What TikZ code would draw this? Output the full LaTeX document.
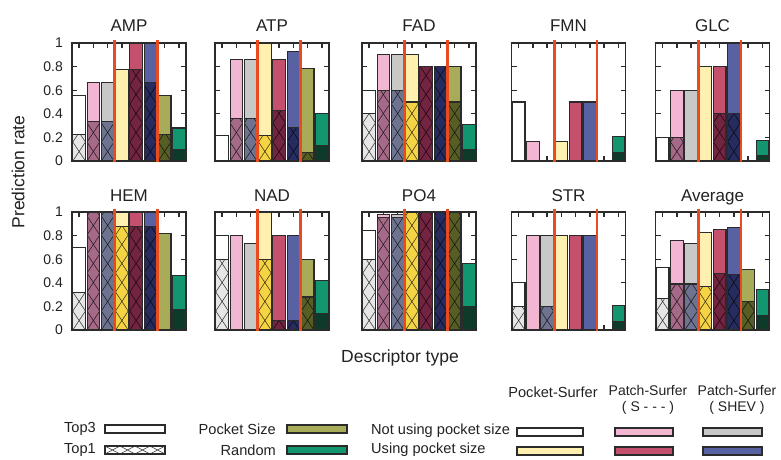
\documentclass[tikz,border=0pt]{standalone}
\usepackage{fontspec}
\setmainfont{Liberation Sans}
\definecolor{frmc}{HTML}{2B2B2B}
\definecolor{txtc}{HTML}{222222}
\definecolor{redc}{HTML}{E84C1E}
\definecolor{t3c0}{HTML}{FFFFFF}\definecolor{t1c0}{HTML}{E6E6E6}
\definecolor{t3c1}{HTML}{F2B6D2}\definecolor{t1c1}{HTML}{A46A88}
\definecolor{t3c2}{HTML}{C8C8C8}\definecolor{t1c2}{HTML}{6E7490}
\definecolor{t3c3}{HTML}{FFF0B0}\definecolor{t1c3}{HTML}{F4D444}
\definecolor{t3c4}{HTML}{C4506E}\definecolor{t1c4}{HTML}{722440}
\definecolor{t3c5}{HTML}{5862A2}\definecolor{t1c5}{HTML}{262C5E}
\definecolor{t3c6}{HTML}{A8AC58}\definecolor{t1c6}{HTML}{565E26}
\definecolor{t3c7}{HTML}{129670}\definecolor{t1c7}{HTML}{0E3A2A}
\tikzset{
  frm/.style={draw=frmc, line width=1.4pt},
  barol/.style={draw=frmc, line width=1.1pt},
  hatchln/.style={draw=black, line width=0.6pt, opacity=0.75},
  redln/.style={draw=redc, line width=2.8pt},
  tickln/.style={draw=frmc, line width=1.3pt},
  ttl/.style={font=\fontsize{17}{20}\selectfont, text=txtc, anchor=base, inner sep=0pt},
  lbl/.style={font=\fontsize{14}{16}\selectfont, text=txtc, inner sep=0pt},
  lgd/.style={font=\fontsize{14.6}{17}\selectfont, text=txtc, inner sep=0pt},
  hdr/.style={font=\fontsize{14}{15.5}\selectfont, text=txtc, inner sep=0pt, align=center, anchor=north},
  axl/.style={font=\fontsize{17.5}{20}\selectfont, text=txtc, inner sep=0pt},
}
\newcommand\hatchrect[4]{%
  \begin{scope}
    \clip (#1,#2) rectangle (#3,#4);
    \foreach \m in {0,...,7} {
      \draw[hatchln] (#1,-\m*19) -- (#3,-\m*19-19);
      \draw[hatchln] (#1,-\m*19-19) -- (#3,-\m*19);
    }
  \end{scope}}
\newcommand\panel[4]{%
  \begin{scope}[shift={(#1,#2)}]
    \foreach \k in {1,...,4}
      \draw[tickln] (0,-\k*23.6) -- ++(5,0) (114,-\k*23.6) -- ++(-5,0);
    \foreach \i in {0,...,7}
      \draw[tickln] (\i*14.25+7.125,-118) -- ++(0,5) (\i*14.25+7.125,0) -- ++(0,-5);
    \foreach \va/\vb [count=\i from 0] in {#4} {
      \pgfmathsetmacro\xa{\i*14.25+0.8}
      \pgfmathsetmacro\xb{(\i+1)*14.25-0.8}
      \fill[fill=t3c\i] (\xa,0) rectangle (\xb,-\va*118);
      \fill[fill=t1c\i] (\xa,0) rectangle (\xb,-\vb*118);
      \ifnum\i<7 \hatchrect{\xa}{0}{\xb}{-\vb*118}\fi
      \draw[barol] (\xa,0) rectangle (\xb,-\vb*118);
      \draw[barol] (\xa,0) rectangle (\xb,-\va*118);
    }
    \draw[frm] (0,0) rectangle (114,-118);
    \draw[redln] (42.75,1) -- (42.75,-121);
    \draw[redln] (85.5,1) -- (85.5,-121);
    \node[ttl, name=title#3] at (57,-129) {#3};
  \end{scope}}
\begin{document}
\begin{tikzpicture}[x=1pt,y=-1pt]
\useasboundingbox (0,0) rectangle (781,460);
\fill[white] (0,0) rectangle (781,460);
% row 1
\panel{72}{161}{AMP}{0.556/0.222,0.667/0.333,0.667/0.333,0.778/0,1/0.778,1/0.667,0.556/0.222,0.28/0.10}
\panel{215}{161}{ATP}{0.214/0,0.857/0.357,0.857/0.357,1/0.214,0.857/0.429,0.929/0.286,0.786/0.071,0.40/0.13}
\panel{362}{161}{FAD}{0.6/0.4,0.9/0.6,0.9/0.6,0.9/0.5,0.8/0.8,0.8/0.8,0.8/0.5,0.31/0.10}
\panel{511.5}{161}{FMN}{0.5/0,0.167/0,0/0,0.167/0,0.5/0,0.5/0,0/0,0.21/0.07}
\panel{655.5}{161}{GLC}{0.2/0,0.6/0.2,0.6/0,0.8/0,0.8/0.4,1/0.4,0/0,0.17/0.05}
% row 2
\panel{72}{330}{HEM}{0.7/0.32,1/1,1/1,1/0.88,1/0.88,1/0.88,0.82/0,0.46/0.17}
\panel{215}{330}{NAD}{0.8/0.6,0.8/0,0.73/0,1/0.6,0.8/0.08,0.8/0.08,0.6/0.28,0.42/0.14}
\panel{362}{330}{PO4}{0.84/0.6,0.98/0.95,0.98/0.95,1/1,1/1,1/1,1/1,0.56/0.2}
\panel{511.5}{330}{STR}{0.4/0.2,0.8/0,0.8/0.2,0.8/0,0.8/0,0.8/0,0/0,0.21/0.07}
\panel{655.5}{330}{Average}{0.53/0.27,0.76/0.39,0.73/0.39,0.83/0.37,0.85/0.48,0.87/0.47,0.51/0.24,0.34/0.12}
% y tick labels
\foreach \lab [count=\c from 0] in {0,0.2,0.4,0.6,0.8,1} {
  \node[lbl, anchor=east, name=ya\c] at (63,161-\c*23.6) {\lab};
  \node[lbl, anchor=east, name=yb\c] at (63,330-\c*23.6) {\lab};
}
% axis labels
\node[axl, rotate=90, name=ylab] at (18,172) {Prediction rate};
\node[axl, name=xlab] at (400,358) {Descriptor type};
% legend left
\node[lgd, anchor=east, name=lt3] at (96,429) {Top3};
\node[lgd, anchor=east, name=lt1] at (96,450) {Top1};
\draw[barol, fill=white] (105,425) rectangle (165,433);
\fill[white] (105,446) rectangle (165,454);
\begin{scope}
  \clip (105,446) rectangle (165,454);
  \foreach \m in {0,...,3} {
    \draw[hatchln] (105+\m*15,446) -- (120+\m*15,454);
    \draw[hatchln] (105+\m*15,454) -- (120+\m*15,446);
  }
\end{scope}
\draw[barol] (105,446) rectangle (165,454);
\node[lgd, anchor=east, name=lps] at (276,429) {Pocket Size};
\node[lgd, anchor=east, name=lrd] at (276,450) {Random};
\draw[barol, fill=t3c6] (287,425) rectangle (347,433);
\draw[barol, fill=t3c7] (287,446) rectangle (347,454);
% legend table
\node[lgd, anchor=base, name=h1] at (553,397) {Pocket-Surfer};
\node[hdr, name=h2] at (648,385.5) {Patch-Surfer\\( S - - - )};
\node[hdr, name=h3] at (737,385.5) {Patch-Surfer\\( SHEV )};
\node[lgd, anchor=west, name=rn] at (371,431) {Not using pocket size};
\node[lgd, anchor=west, name=ru] at (371,450) {Using pocket size};
\draw[barol, fill=t3c0] (517,428) rectangle (583,436);
\draw[barol, fill=t3c1] (615,428) rectangle (673,436);
\draw[barol, fill=t3c2] (703,428) rectangle (762,436);
\draw[barol, fill=t3c3] (517,447) rectangle (583,455);
\draw[barol, fill=t3c4] (615,447) rectangle (673,455);
\draw[barol, fill=t3c5] (703,447) rectangle (762,455);
\end{tikzpicture}
\end{document}
